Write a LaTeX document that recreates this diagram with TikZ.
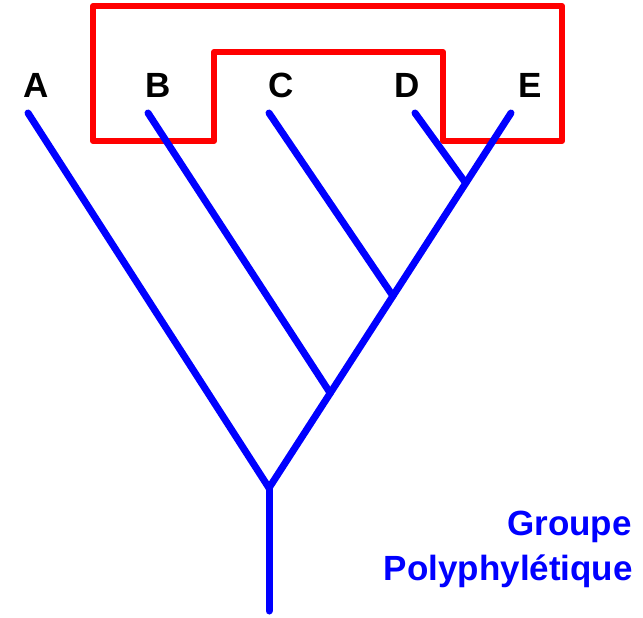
\documentclass[tikz,border=0pt]{standalone}
\usepackage{fontspec}
\setmainfont{Liberation Sans}
\usetikzlibrary{calc}

\begin{document}
\begin{tikzpicture}[x=1pt,y=-1pt,
  branch/.style={draw=blue,line width=7pt,line cap=round},
  group/.style={draw=red,line width=6pt,line join=round},
  taxon/.style={font=\fontsize{35}{42}\bfseries\selectfont,text=black,anchor=base,inner sep=0pt},
  caption/.style={font=\fontsize{35}{42}\bfseries\selectfont,text=blue,anchor=base east,inner sep=0pt}]
\useasboundingbox (0,0) rectangle (643,618);
\draw[group] (93,6) -- (562,6) -- (562,141) -- (443,141) -- (443,52) -- (214,52) -- (214,141) -- (93,141) -- cycle;
\coordinate (base) at (269,611);
\coordinate (root) at (269,488);
\coordinate (tA) at (28,113);
\coordinate (tB) at (148,113);
\coordinate (tC) at (269,113);
\coordinate (tD) at (415,113);
\coordinate (tE) at (511,113);
\coordinate (nB) at ($(root)!0.253!(tE)$);
\coordinate (nC) at ($(root)!0.512!(tE)$);
\coordinate (nD) at ($(root)!0.813!(tE)$);
\draw[branch] (base) -- (root);
\draw[branch] (root) -- (tA);
\draw[branch] (root) -- (tE);
\draw[branch] (nB) -- (tB);
\draw[branch] (nC) -- (tC);
\draw[branch] (nD) -- (tD);
\node[taxon] (A) at (36,97) {A};
\node[taxon] (B) at (158,97) {B};
\node[taxon] (C) at (281,97) {C};
\node[taxon] (D) at (407,97) {D};
\node[taxon] (E) at (530,97) {E};
\node[caption] (groupe) at (632,535) {Groupe};
\node[caption] (poly) at (633,580) {Polyphylétique};
\end{tikzpicture}
\end{document}
